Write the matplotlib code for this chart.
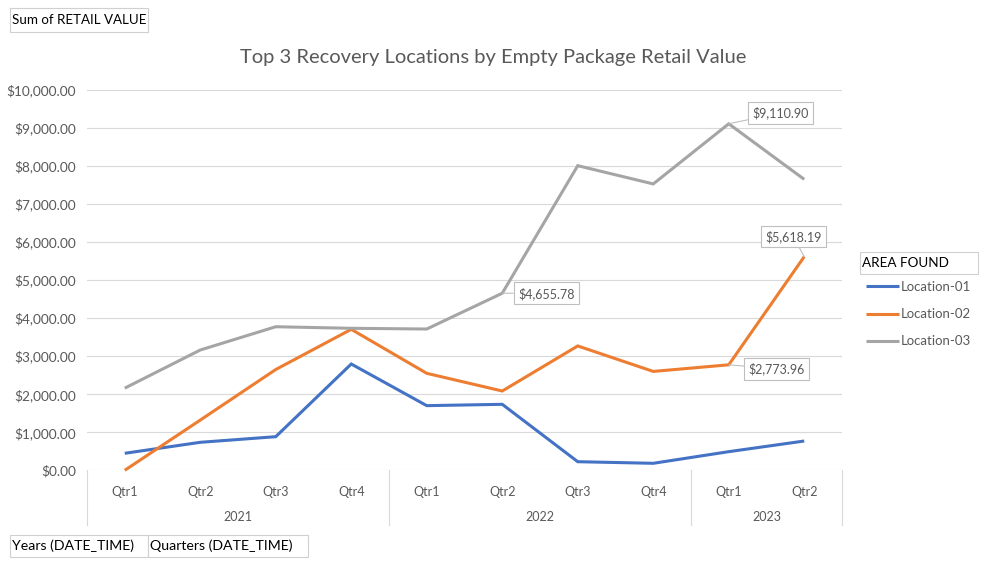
import matplotlib
matplotlib.use("Agg")
import matplotlib.pyplot as plt
from matplotlib.patches import Rectangle
from matplotlib.transforms import blended_transform_factory
from matplotlib.ticker import FuncFormatter, MultipleLocator

plt.rcParams['font.family'] = ['Lato', 'DejaVu Sans']

quarters = ["Qtr1", "Qtr2", "Qtr3", "Qtr4", "Qtr1", "Qtr2", "Qtr3", "Qtr4", "Qtr1", "Qtr2"]
years = ["2021", "2022", "2023"]
year_counts = [4, 4, 2]

location_01 = [447, 736, 884, 2795, 1700, 1735, 226, 184, 490, 770]
location_02 = [0, 1320, 2650, 3707, 2550, 2085, 3270, 2600, 2773.96, 5618.19]
location_03 = [2160, 3163, 3775, 3734, 3715, 4655.78, 8010, 7530, 9110.90, 7650]

series_names = ["Location-01", "Location-02", "Location-03"]
series_values = [location_01, location_02, location_03]
series_colors = ["#4472C4", "#ED7D31", "#A5A5A5"]

# labelled points: (series index, category index, label offset in pixels)
labelled = [(2, 8, (52, 11)), (1, 9, (-11, 20)), (2, 5, (44, 0)), (1, 8, (48, -4))]

W, H = 988, 565
fig = plt.figure(figsize=(W / 100, H / 100), dpi=100)

def fx(x):
    return x / W

def fy(y):
    return 1 - y / H

left, right, top, bottom = 87, 842, 90, 470.3
ax = fig.add_axes([fx(left), fy(bottom), (right - left) / W, (bottom - top) / H])

x = list(range(len(quarters)))
lines = []
for name, vals, col in zip(series_names, series_values, series_colors):
    ln, = ax.plot(x, vals, color=col, lw=2.2, label=name, clip_on=False,
                  solid_joinstyle='miter', solid_capstyle='butt', zorder=3)
    lines.append(ln)

ax.set_xlim(-0.5, len(quarters) - 0.5)
ax.set_ylim(0, 10000)
ax.yaxis.set_major_locator(MultipleLocator(1000))
ax.yaxis.set_major_formatter(FuncFormatter(lambda v, p: "${:,.2f}".format(v)))
ax.grid(axis='y', color='#D9D9D9', lw=0.8, zorder=0)
ax.set_axisbelow(True)
for s in ax.spines.values():
    s.set_visible(False)

ax.set_xticks(x)
ax.set_xticklabels(quarters)
ax.tick_params(axis='x', length=0, pad=11, labelsize=9, labelcolor='#595959')
ax.tick_params(axis='y', length=0, pad=8, labelsize=9.8, labelcolor='#595959')

# multi-level category axis
trans = blended_transform_factory(ax.transData, ax.transAxes)
ax_h = bottom - top
sep_depth = 55 / ax_h
pos = -0.5
seps = [pos]
for yr, n in zip(years, year_counts):
    center = pos + n / 2
    ax.text(center, -47 / ax_h, yr, transform=trans, ha='center', va='center',
            fontsize=9, color='#595959')
    pos += n
    seps.append(pos)
for s in seps:
    ax.plot([s, s], [0, -sep_depth], transform=trans, color='#D9D9D9', lw=0.8,
            clip_on=False)

# data labels
for si, ci, off in labelled:
    v = series_values[si][ci]
    ax.annotate("${:,.2f}".format(v), xy=(ci, v), xytext=off, textcoords='offset pixels',
                ha='center', va='center', fontsize=9, color='#595959',
                bbox=dict(boxstyle='square,pad=0.35', fc='white', ec='#BFBFBF', lw=0.8),
                arrowprops=dict(arrowstyle='-', color='#BFBFBF', lw=0.8,
                                shrinkA=0, shrinkB=0),
                zorder=5)

# title
fig.text(fx(493), fy(57), "Top 3 Recovery Locations by Empty Package Retail Value",
         ha='center', va='center', fontsize=14.5, color='#595959')

# field buttons
def field_box(x0, y0, x1, y1, label, size=9):
    fig.patches.append(Rectangle((fx(x0), fy(y1)), (x1 - x0) / W, (y1 - y0) / H,
                                 transform=fig.transFigure, fc='white', ec='#D0D0D0', lw=0.8))
    fig.text(fx(x0 + 2), fy((y0 + y1) / 2), label, ha='left', va='center',
             fontsize=size, color='black')

field_box(10, 8, 148, 32, "Sum of RETAIL VALUE", size=9.6)
field_box(10, 535, 148, 557, "Years (DATE_TIME)", size=10.2)
field_box(148, 535, 308, 557, "Quarters (DATE_TIME)", size=10.2)
field_box(860, 252, 978, 274, "AREA FOUND", size=9.7)

# legend
leg = fig.legend(handles=lines, labels=series_names, loc='upper left',
                 bbox_to_anchor=(fx(866), fy(281)), frameon=False, fontsize=9.5,
                 handlelength=2.5, handletextpad=0.1, labelspacing=1.15,
                 borderaxespad=0, borderpad=0)
for t in leg.get_texts():
    t.set_color('#595959')

fig.savefig("out.png", dpi=100, facecolor='white')
